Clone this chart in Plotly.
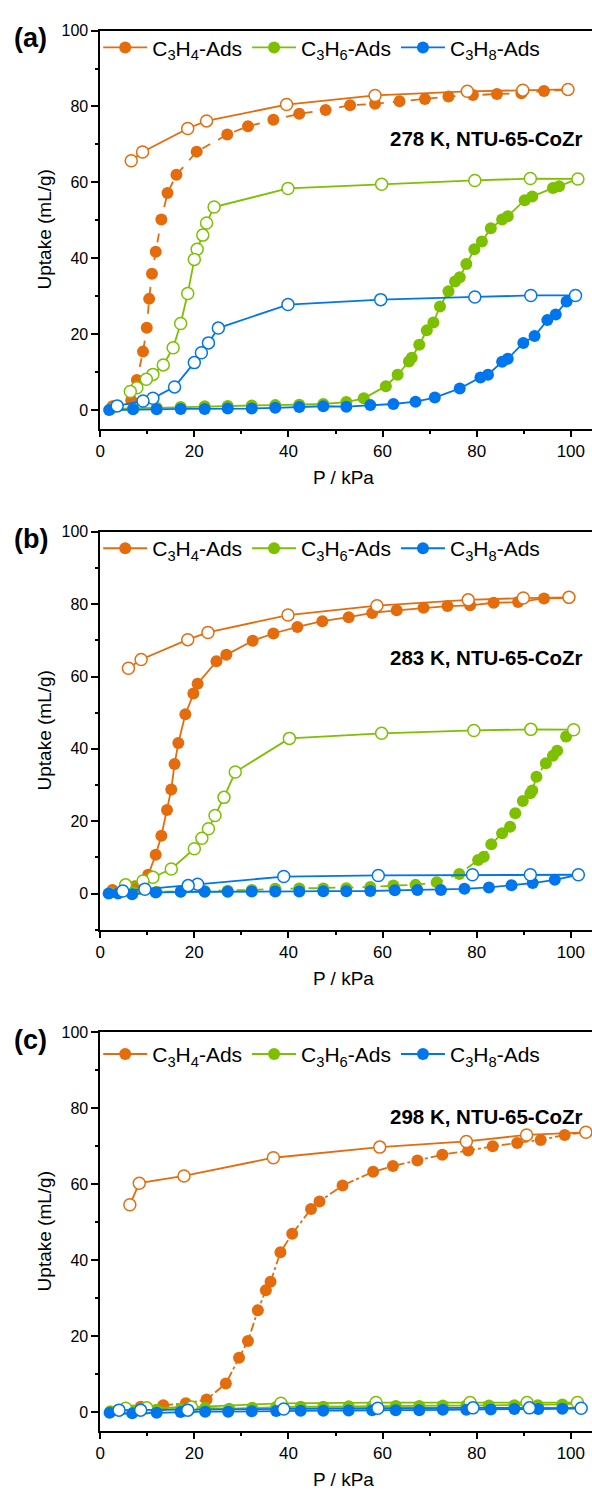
import plotly.graph_objects as go

# ---------------- data (P / kPa, uptake mL/g) ----------------
# Panel (a) 278 K
a_c3h4_ads_p = [2.6, 6.6, 7.8, 9.1, 9.9, 10.4, 11.0, 11.8, 13.0, 14.3, 16.2, 20.5, 27.0, 31.4, 36.8, 42.3, 47.9, 53.1, 58.4, 63.6, 69.0, 74.0, 79.2, 84.3, 89.5, 94.3, 99.4]
a_c3h4_ads_q = [1.0, 2.6, 7.9, 15.4, 21.7, 29.3, 35.9, 41.7, 50.2, 57.2, 62.0, 68.1, 72.6, 74.8, 76.5, 78.1, 79.1, 80.3, 80.7, 81.4, 82.0, 82.6, 83.0, 83.3, 83.5, 84.1, 84.4]
a_c3h4_des_p = [99.4, 89.8, 78.0, 58.4, 39.6, 22.6, 18.6, 9.0, 6.6]
a_c3h4_des_q = [84.5, 84.3, 84.0, 82.9, 80.5, 76.2, 74.2, 68.0, 65.7]
a_c3h6_ads_p = [2.2, 7.0, 12.0, 17.1, 22.2, 27.1, 32.2, 37.2, 42.3, 47.4, 52.3, 56.0, 60.7, 63.2, 65.6, 66.2, 67.8, 69.4, 70.8, 72.2, 74.0, 75.4, 76.4, 77.8, 79.5, 81.1, 83.0, 85.4, 86.6, 90.2, 91.8, 96.2, 97.5, 101.5]
a_c3h6_ads_q = [0.2, 0.5, 0.6, 0.8, 1.0, 1.1, 1.2, 1.3, 1.4, 1.6, 2.1, 3.1, 6.3, 9.3, 12.8, 13.8, 17.2, 21.0, 23.1, 27.3, 31.3, 33.9, 35.0, 38.5, 42.4, 44.4, 47.9, 50.2, 51.1, 55.3, 56.3, 58.5, 59.0, 60.9]
a_c3h6_des_p = [101.5, 91.4, 79.6, 59.8, 39.9, 24.2, 22.6, 21.8, 20.6, 20.0, 18.6, 17.1, 15.5, 13.4, 11.2, 9.8, 7.8, 6.4]
a_c3h6_des_q = [60.9, 61.0, 60.5, 59.5, 58.4, 53.5, 49.3, 46.1, 42.4, 39.7, 30.7, 22.8, 16.4, 11.9, 9.4, 8.1, 5.9, 4.9]
a_c3h8_ads_p = [1.9, 7.0, 12.0, 17.1, 22.2, 27.1, 32.2, 37.2, 42.3, 47.4, 52.3, 57.4, 62.3, 67.0, 71.1, 76.4, 80.8, 82.4, 85.4, 86.6, 89.9, 92.3, 95.0, 96.8, 99.1, 101.0]
a_c3h8_ads_q = [0.0, 0.2, 0.2, 0.3, 0.3, 0.4, 0.4, 0.6, 0.8, 1.0, 0.9, 1.3, 1.6, 2.2, 3.3, 5.7, 8.6, 9.3, 12.7, 13.5, 17.7, 19.5, 23.7, 25.2, 28.6, 30.2]
a_c3h8_des_p = [101.0, 91.5, 79.6, 59.6, 39.9, 25.1, 23.0, 21.5, 20.0, 15.8, 11.2, 9.1, 3.6]
a_c3h8_des_q = [30.2, 30.2, 29.8, 29.1, 27.8, 21.6, 17.7, 15.1, 12.5, 6.1, 3.1, 2.4, 1.1]

# Panel (b) 283 K
b_c3h4_ads_p = [2.6, 7.4, 10.2, 11.8, 13.0, 14.2, 15.1, 15.8, 16.6, 18.1, 19.8, 20.7, 24.7, 26.8, 32.4, 36.8, 41.9, 47.2, 52.8, 57.8, 63.0, 68.7, 73.8, 78.6, 83.6, 88.8, 94.3, 99.6]
b_c3h4_ads_q = [1.0, 2.0, 5.2, 10.7, 16.0, 23.1, 28.8, 35.8, 41.6, 49.6, 55.3, 58.0, 64.2, 66.0, 69.9, 71.9, 73.7, 75.3, 76.4, 77.6, 78.3, 79.0, 79.5, 79.7, 80.4, 80.6, 81.6, 81.7]
b_c3h4_des_p = [99.6, 89.9, 78.2, 58.8, 39.9, 22.9, 18.6, 8.7, 6.0]
b_c3h4_des_q = [81.9, 81.7, 81.2, 79.6, 77.0, 72.2, 70.2, 64.7, 62.3]
b_c3h6_ads_p = [2.2, 7.0, 12.0, 17.1, 22.2, 27.1, 32.2, 37.2, 42.3, 47.4, 52.3, 57.4, 62.3, 67.0, 71.5, 76.3, 80.3, 81.5, 83.1, 85.4, 87.1, 88.2, 89.8, 91.4, 91.8, 92.7, 94.7, 96.2, 97.1, 99.0, 100.6]
b_c3h6_ads_q = [0.2, 0.4, 0.5, 0.6, 0.7, 0.8, 1.0, 1.3, 1.4, 1.4, 1.5, 1.8, 2.2, 2.4, 3.1, 5.4, 9.3, 10.2, 13.6, 16.7, 18.5, 22.2, 25.6, 27.7, 28.5, 32.3, 36.0, 38.1, 39.5, 43.4, 45.3]
b_c3h6_des_p = [100.6, 91.5, 79.4, 59.8, 40.2, 28.7, 26.3, 24.4, 23.0, 21.6, 20.0, 15.1, 11.2, 9.1, 5.4]
b_c3h6_des_q = [45.3, 45.4, 45.1, 44.3, 42.9, 33.6, 26.6, 21.6, 17.9, 15.3, 12.4, 6.8, 4.5, 3.5, 2.4]
b_c3h8_ads_p = [1.8, 3.8, 6.8, 11.8, 17.1, 22.2, 27.1, 32.2, 37.2, 42.3, 47.4, 52.3, 57.4, 62.6, 67.4, 72.4, 77.4, 82.6, 87.4, 91.9, 96.6, 101.6]
b_c3h8_ads_q = [0.0, 0.0, -0.2, 0.3, 0.5, 0.5, 0.5, 0.6, 0.6, 0.6, 0.65, 0.65, 0.7, 0.9, 1.0, 1.0, 1.3, 1.7, 2.3, 2.9, 3.8, 5.2]
b_c3h8_des_p = [101.6, 91.4, 79.1, 59.1, 39.0, 20.7, 18.7, 9.5, 4.8]
b_c3h8_des_q = [5.2, 5.2, 5.2, 5.0, 4.7, 2.6, 2.2, 1.2, 0.7]

# Panel (c) 298 K
c_c3h4_ads_p = [2.2, 8.6, 13.4, 18.2, 22.6, 26.7, 29.5, 31.4, 33.5, 35.2, 36.2, 38.3, 40.8, 44.8, 46.6, 51.5, 58.0, 62.2, 67.4, 72.7, 78.2, 83.4, 88.6, 93.6, 98.7, 103.2]
c_c3h4_ads_q = [0.0, 1.4, 1.8, 2.3, 3.3, 7.5, 14.3, 18.7, 26.8, 32.1, 34.3, 42.1, 47.0, 53.5, 55.5, 59.7, 63.3, 64.8, 66.3, 67.8, 68.9, 70.0, 70.9, 71.7, 73.0, 73.7]
c_c3h4_des_p = [103.2, 90.6, 77.8, 59.4, 36.8, 17.8, 8.3, 6.3]
c_c3h4_des_q = [73.7, 73.0, 71.3, 69.8, 67.0, 62.2, 60.3, 54.6]
c_c3h6_ads_p = [2.2, 7.0, 12.0, 17.1, 22.3, 27.4, 32.3, 37.4, 42.6, 47.4, 52.8, 57.8, 62.8, 67.8, 72.8, 77.8, 82.6, 88.0, 93.0, 98.2, 101.4]
c_c3h6_ads_q = [0.2, 0.4, 0.6, 0.8, 1.1, 0.9, 1.1, 1.3, 1.4, 1.4, 1.5, 1.5, 1.6, 1.6, 1.7, 1.7, 1.75, 1.8, 1.8, 2.0, 2.3]
c_c3h6_des_p = [101.4, 90.7, 78.6, 58.6, 38.4, 19.4, 9.9, 5.4]
c_c3h6_des_q = [2.5, 2.5, 2.5, 2.5, 2.3, 1.3, 1.1, 1.0]
c_c3h8_ads_p = [2.0, 6.8, 12.0, 17.1, 22.3, 27.2, 32.2, 37.4, 42.6, 47.4, 52.8, 57.8, 62.8, 67.8, 72.8, 77.8, 83.0, 88.0, 93.1, 98.2, 102.2]
c_c3h8_ads_q = [-0.2, -0.35, -0.2, 0.0, 0.1, 0.1, 0.2, 0.3, 0.35, 0.35, 0.4, 0.5, 0.5, 0.5, 0.6, 0.6, 0.7, 0.8, 0.8, 0.9, 1.0]
c_c3h8_des_p = [102.2, 91.2, 79.2, 59.0, 39.0, 18.6, 8.6, 4.0]
c_c3h8_des_q = [1.0, 1.1, 1.1, 1.0, 0.8, 0.5, 0.5, 0.5]

panel_labels = ["(a)", "(b)", "(c)"]
panel_notes = ["278 K, NTU-65-CoZr", "283 K, NTU-65-CoZr", "298 K, NTU-65-CoZr"]
gas_names = ["C<sub>3</sub>H<sub>4</sub>-Ads", "C<sub>3</sub>H<sub>6</sub>-Ads", "C<sub>3</sub>H<sub>8</sub>-Ads"]
x_ticks = [0, 20, 40, 60, 80, 100]
y_ticks = [0, 20, 40, 60, 80, 100]

# ---------------- styling ----------------
COL = {"c3h4": "#E56C0C", "c3h6": "#7CC000", "c3h8": "#0076EE"}
FONT = "Arial, Liberation Sans, sans-serif"
W, H = 592, 1491
plot_left = 96
xmax = 104.5
tops = [22.7, 526.7, 1030.0]
bottoms = [423.3, 926.7, 1430.7]
yranges = [[-5, 100], [-10, 100], [-5, 100]]
note_y_px = [131.5, 653.0, 1114.0]
legend_y_px = [40.0, 543.5, 1052.0]
ads_dash = [
    {"c3h4": "dash", "c3h6": "solid", "c3h8": "solid"},
    {"c3h4": "solid", "c3h6": "dash", "c3h8": "solid"},
    {"c3h4": "dashdot", "c3h6": "solid", "c3h8": "solid"},
]

data = {
    0: {"c3h4": (a_c3h4_ads_p, a_c3h4_ads_q, a_c3h4_des_p, a_c3h4_des_q),
        "c3h6": (a_c3h6_ads_p, a_c3h6_ads_q, a_c3h6_des_p, a_c3h6_des_q),
        "c3h8": (a_c3h8_ads_p, a_c3h8_ads_q, a_c3h8_des_p, a_c3h8_des_q)},
    1: {"c3h4": (b_c3h4_ads_p, b_c3h4_ads_q, b_c3h4_des_p, b_c3h4_des_q),
        "c3h6": (b_c3h6_ads_p, b_c3h6_ads_q, b_c3h6_des_p, b_c3h6_des_q),
        "c3h8": (b_c3h8_ads_p, b_c3h8_ads_q, b_c3h8_des_p, b_c3h8_des_q)},
    2: {"c3h4": (c_c3h4_ads_p, c_c3h4_ads_q, c_c3h4_des_p, c_c3h4_des_q),
        "c3h6": (c_c3h6_ads_p, c_c3h6_ads_q, c_c3h6_des_p, c_c3h6_des_q),
        "c3h8": (c_c3h8_ads_p, c_c3h8_ads_q, c_c3h8_des_p, c_c3h8_des_q)},
}

def py(px):
    return 1 - px / H

fig = go.Figure()
layout = dict(width=W, height=H, margin=dict(l=0, r=0, t=0, b=0),
              paper_bgcolor="white", plot_bgcolor="white",
              font=dict(family=FONT, color="black"), showlegend=True)
annotations = []
legend_ids = ["legend", "legend2", "legend3"]

for i in range(3):
    xa = "x" if i == 0 else f"x{i+1}"
    ya = "y" if i == 0 else f"y{i+1}"
    xkey = "xaxis" if i == 0 else f"xaxis{i+1}"
    ykey = "yaxis" if i == 0 else f"yaxis{i+1}"
    for gas in ["c3h4", "c3h6", "c3h8"]:
        ap, aq, dp, dq = data[i][gas]
        c = COL[gas]
        fig.add_trace(go.Scatter(x=ap, y=aq, xaxis=xa, yaxis=ya, mode="lines+markers",
                                 line=dict(color=c, width=1.8, dash=ads_dash[i][gas]),
                                 marker=dict(symbol="circle", size=12, color=c, line=dict(width=0)),
                                 showlegend=False, hoverinfo="x+y"))
        fig.add_trace(go.Scatter(x=dp, y=dq, xaxis=xa, yaxis=ya, mode="lines+markers",
                                 line=dict(color=c, width=1.8),
                                 marker=dict(symbol="circle", size=12, color="white", line=dict(width=1.5, color=c)),
                                 showlegend=False, hoverinfo="x+y"))
    # legend entries
    for gas, name in zip(["c3h4", "c3h6", "c3h8"], gas_names):
        c = COL[gas]
        fig.add_trace(go.Scatter(x=[None], y=[None], xaxis=xa, yaxis=ya, mode="lines+markers",
                                 name=name, legend=legend_ids[i],
                                 line=dict(color=c, width=1.8),
                                 marker=dict(symbol="circle", size=12, color=c)))
    layout[legend_ids[i]] = dict(orientation="h", x=(plot_left - 2) / W, xanchor="left",
                                 y=py(legend_y_px[i]), yanchor="middle",
                                 font=dict(size=21, family=FONT), itemwidth=44,
                                 bgcolor="rgba(0,0,0,0)", borderwidth=0, tracegroupgap=0)
    layout[xkey] = dict(domain=[plot_left / W, 1.0], anchor=ya, range=[0, xmax],
                        tickvals=x_ticks, ticks="outside", ticklen=6, tickwidth=1.5,
                        tickcolor="black", showline=True, linewidth=1.6, linecolor="black",
                        mirror=True, showgrid=False, zeroline=False,
                        tickfont=dict(size=17, family=FONT),
                        minor=dict(dtick=10, tick0=0, ticks="outside", ticklen=3.5,
                                   tickwidth=1.5, tickcolor="black", showgrid=False))
    layout[ykey] = dict(domain=[py(bottoms[i]), py(tops[i])], anchor=xa, range=yranges[i],
                        tickvals=y_ticks, ticks="outside", ticklen=7, tickwidth=1.5,
                        tickcolor="black", showline=True, linewidth=1.6, linecolor="black",
                        showgrid=False, zeroline=False,
                        tickfont=dict(size=16, family=FONT),
                        minor=dict(dtick=10, tick0=0, ticks="outside", ticklen=3.5,
                                   tickwidth=1.5, tickcolor="black", showgrid=False))
    # panel label
    annotations.append(dict(text=f"<b>{panel_labels[i]}</b>", x=26 / W, y=py(tops[i] + 7.5),
                            xref="paper", yref="paper", showarrow=False,
                            font=dict(size=27, family=FONT), xanchor="center", yanchor="middle"))
    # temperature note
    annotations.append(dict(text=f"<b>{panel_notes[i]}</b>", x=585 / W, y=py(note_y_px[i]),
                            xref="paper", yref="paper", showarrow=False,
                            font=dict(size=20.5, family=FONT), xanchor="right", yanchor="middle"))
    # axis titles
    annotations.append(dict(text="Uptake (mL/g)", x=40 / W, y=py((tops[i] + bottoms[i]) / 2),
                            xref="paper", yref="paper", showarrow=False, textangle=-90,
                            font=dict(size=19, family=FONT), xanchor="center", yanchor="middle"))
    annotations.append(dict(text="P / kPa", x=341 / W, y=py(bottoms[i] + 49),
                            xref="paper", yref="paper", showarrow=False,
                            font=dict(size=19, family=FONT), xanchor="center", yanchor="middle"))

layout["annotations"] = annotations
fig.update_layout(**layout)
fig.write_html("out.html")
